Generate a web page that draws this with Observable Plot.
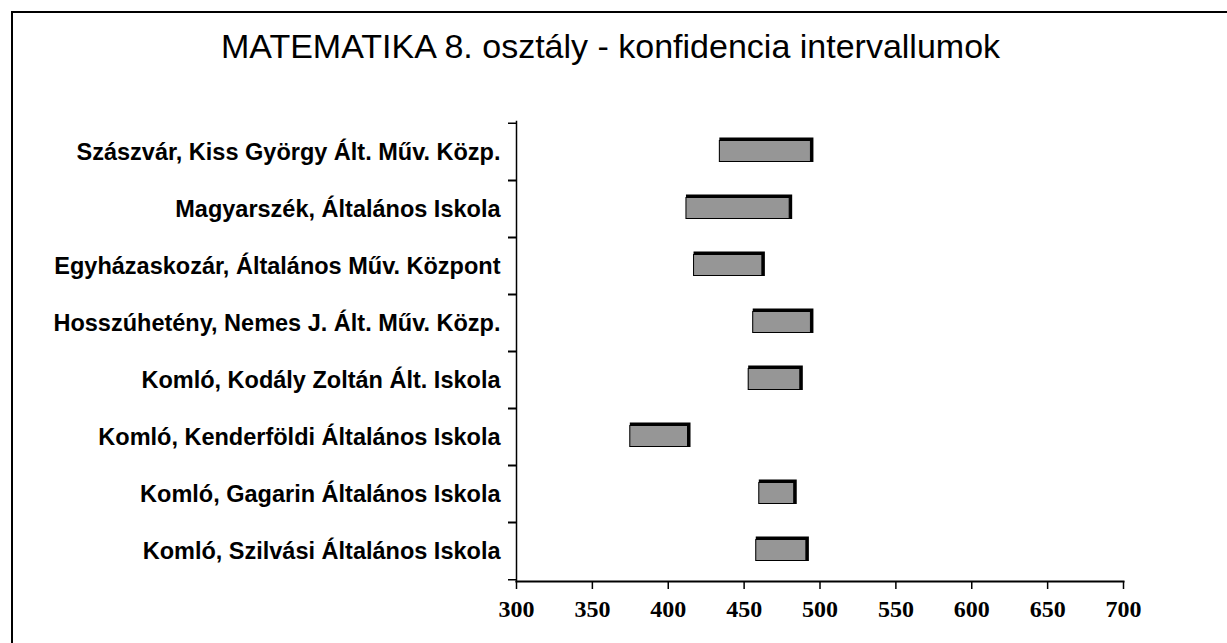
<!DOCTYPE html>
<html>
<head>
<meta charset="utf-8">
<script src="https://cdn.jsdelivr.net/npm/d3@7"></script>
<script src="https://cdn.jsdelivr.net/npm/@observablehq/plot@0.6"></script>
<style>
  body { margin: 0; background: #fff; overflow: hidden; }
  #wrap { position: relative; width: 1227px; height: 643px; overflow: hidden; background: #fff; }
  #frame { position: absolute; left: 11px; top: 11px; width: 1300px; height: 700px;
           border-left: 2px solid #000; border-top: 2px solid #000; pointer-events: none; }
  #title { height: 80px; box-sizing: border-box; padding-top: 29px; padding-right: 6px;
           font-family: "Liberation Sans", Arial, sans-serif; font-size: 34px; line-height: 34px;
           text-align: center; color: #000; white-space: nowrap; }
  #chart svg { display: block; }
</style>
</head>
<body>
<div id="wrap">
  <div id="title">MATEMATIKA 8. osztály - konfidencia intervallumok</div>
  <div id="chart"></div>
  <div id="frame"></div>
</div>
<script>
const schools = [
  "Szászvár, Kiss György Ált. Műv. Közp.",
  "Magyarszék, Általános Iskola",
  "Egyházaskozár, Általános Műv. Központ",
  "Hosszúhetény, Nemes J. Ált. Műv. Közp.",
  "Komló, Kodály Zoltán Ált. Iskola",
  "Komló, Kenderföldi Általános Iskola",
  "Komló, Gagarin Általános Iskola",
  "Komló, Szilvási Általános Iskola"
];
const lower = [434, 412, 417, 456, 453, 375, 460, 458];
const upper = [496, 482, 464, 496, 489, 415, 485, 493];
const xTicks = [300, 350, 400, 450, 500, 550, 600, 650, 700];

const data = schools.map((s, i) => ({school: s, lo: lower[i], hi: upper[i]}));

const H = 563, mTop = 41, mBottom = 62;
const step = (H - mTop - mBottom) / schools.length;

const chart = Plot.plot({
  width: 1227,
  height: H,
  marginLeft: 516,
  marginRight: 104,
  marginTop: mTop,
  marginBottom: mBottom,
  style: {background: "white", color: "#000"},
  x: {domain: [300, 700], label: null},
  y: {domain: schools, padding: 0, label: null},
  marks: [
    Plot.barX(data, {x1: "lo", x2: "hi", y: "school", fill: "#000", insetTop: 14.5, insetBottom: 18}),
    Plot.barX(data, {x1: "lo", x2: "hi", y: "school", fill: "#969696", stroke: "#000", strokeWidth: 1,
                     insetTop: 17.5, insetBottom: 18.5, insetRight: 3}),
    Plot.frame({anchor: "left", stroke: "#000", strokeWidth: 1.5}),
    Plot.frame({anchor: "bottom", stroke: "#000", strokeWidth: 2}),
    Plot.axisY({tickSize: 0, tickPadding: 16, fontSize: 23.5, fontWeight: "bold",
                fontFamily: "Liberation Sans, Arial, sans-serif"}),
    Plot.axisY({tickSize: 8, tickFormat: () => "", dy: -step / 2, strokeWidth: 1.5}),
    Plot.axisY({tickSize: 8, tickFormat: () => "", dy: step / 2, strokeWidth: 1.5}),
    Plot.axisX({ticks: xTicks, tickSize: 8, tickPadding: 10, fontSize: 24, fontWeight: "bold",
                fontFamily: "Liberation Serif, Times New Roman, serif", strokeWidth: 1.5})
  ]
});
document.getElementById("chart").appendChild(chart);
</script>
</body>
</html>
